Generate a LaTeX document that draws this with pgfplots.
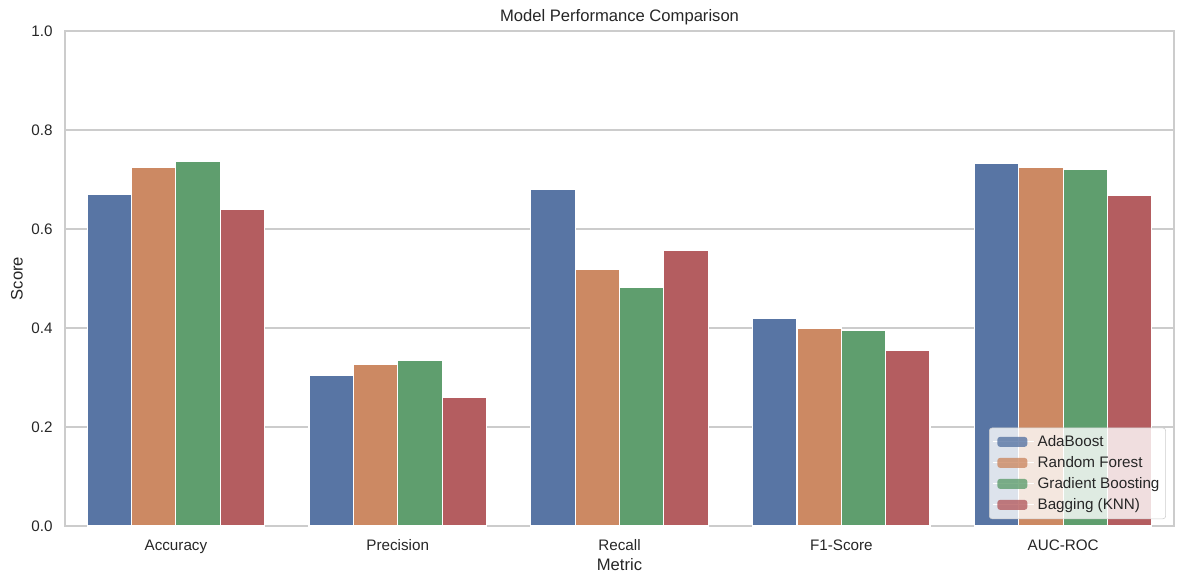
\documentclass[border=0pt]{standalone}
\usepackage{pgfplots}
\pgfplotsset{compat=1.18}
\usepackage{fontspec}
\setmainfont{Liberation Sans}
\definecolor{cA}{RGB}{88,117,164}
\definecolor{cB}{RGB}{204,137,99}
\definecolor{cC}{RGB}{95,158,110}
\definecolor{cD}{RGB}{180,93,96}
\definecolor{gridc}{RGB}{204,204,204}
\definecolor{txt}{RGB}{38,38,38}
\pgfplotsset{
  barleg/.style={legend image code/.code={\path (-2.9bp,0bp) -- (26.6bp,0bp);\fill[##1,draw=none] (0bp,-3.6bp) rectangle (21.6bp,3.6bp);}}
}
\begin{document}
\begin{tikzpicture}
\path[use as bounding box] (-46.8bp,-41.76bp) rectangle (805.68bp,378.72bp);
\begin{axis}[
  at={(0,0)}, anchor=south west,
  scale only axis, width=798.5bp, height=356.4bp,
  xmin=-0.5, xmax=4.5, ymin=0, ymax=1,
  xtick={0,1,2,3,4},
  xticklabels={Accuracy,Precision,Recall,F1-Score,AUC-ROC},
  ytick={0,0.2,0.4,0.6,0.8,1.0},
  yticklabel style={/pgf/number format/fixed,/pgf/number format/fixed zerofill,/pgf/number format/precision=1, xshift=-5.5bp},
  /pgf/number format/assume math mode=true,
  major tick length=0pt,
  tick label style={font=\fontsize{11}{13}\selectfont, text=txt},
  xticklabel style={yshift=-6.5bp},
  ymajorgrids, xmajorgrids=false,
  grid style={color=gridc, line width=1pt},
  axis line style={color=gridc, line width=1.25pt},
  xlabel={Metric}, ylabel={Score},
  label style={font=\fontsize{12}{14}\selectfont, text=txt},
  xlabel style={at={(axis description cs:0.5,0)}, anchor=center, yshift=-28bp},
  ylabel style={at={(axis description cs:0,0.5)}, anchor=center, yshift=34.6bp},
  title={Model Performance Comparison},
  every axis title shift=0pt,
  title style={font=\fontsize{12}{14}\selectfont, text=txt, at={(axis description cs:0.5,1)}, anchor=center, yshift=10bp},
  ybar, bar width=0.2,
  legend style={at={(axis description cs:1,0)}, anchor=south east, xshift=-5.8bp, yshift=5bp,
    fill=white, fill opacity=0.8, text opacity=1, draw=gridc, rounded corners=2bp,
    font=\fontsize{11}{13}\selectfont, text=txt, row sep=1.7bp, inner xsep=2.5bp, inner ysep=3.3bp},
  legend cell align=left,
]
\addplot[fill=cA, draw=white, line width=0.8bp, bar shift=-0.3, barleg] coordinates {(0,0.669) (1,0.305) (2,0.679) (3,0.420) (4,0.732)};
\addplot[fill=cB, draw=white, line width=0.8bp, bar shift=-0.1, barleg] coordinates {(0,0.725) (1,0.327) (2,0.518) (3,0.400) (4,0.725)};
\addplot[fill=cC, draw=white, line width=0.8bp, bar shift=0.1, barleg] coordinates {(0,0.737) (1,0.335) (2,0.482) (3,0.396) (4,0.721)};
\addplot[fill=cD, draw=white, line width=0.8bp, bar shift=0.3, barleg] coordinates {(0,0.640) (1,0.259) (2,0.556) (3,0.354) (4,0.667)};
\legend{AdaBoost,Random Forest,Gradient Boosting,Bagging (KNN)}
\end{axis}
\end{tikzpicture}
\end{document}
